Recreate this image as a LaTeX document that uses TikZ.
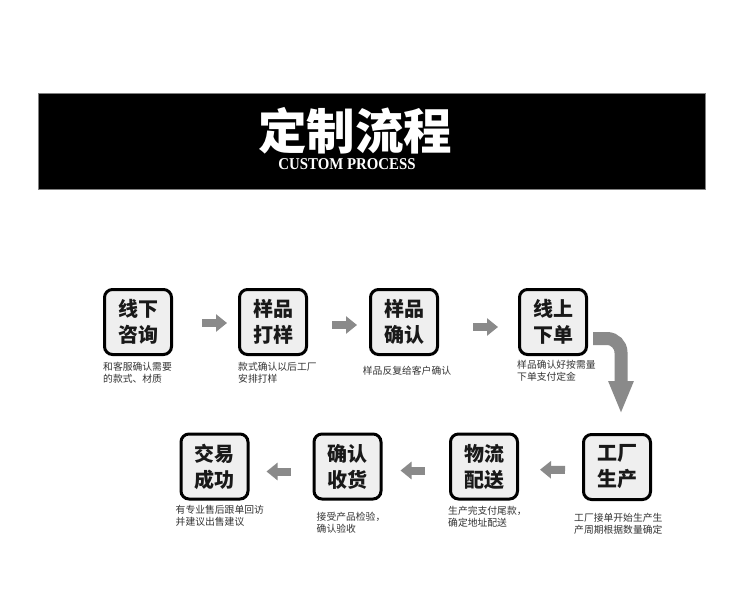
\documentclass[tikz,border=0pt]{standalone}
\usepackage{fontspec}
\newfontfamily\cjk{Noto Sans CJK SC}
\setmainfont{Liberation Serif}
\usetikzlibrary{arrows.meta,positioning,calc}
\definecolor{boxfill}{HTML}{EFEFEF}
\definecolor{arrowgray}{HTML}{8A8A8A}
\definecolor{captext}{HTML}{333333}
\definecolor{bannerline}{HTML}{808080}
\tikzset{
  stepbox/.style={draw=black, line width=3pt, rounded corners=8pt, fill=boxfill,
    minimum width=67pt, minimum height=65pt, inner sep=0pt, align=center,
    font=\cjk\bfseries\fontsize{20}{26}\selectfont, text=black!90},
  captxt/.style={inner sep=0pt, align=left, text=captext,
    font=\cjk\fontsize{9.8}{12}\selectfont},
  garrow/.style={draw=arrowgray, line width=8pt, -{Triangle[length=11pt,width=17pt]}},
  bigarrow/.style={draw=arrowgray, line width=13pt, rounded corners=14pt,
    -{Triangle[length=33pt,width=23pt]}},
}
\begin{document}
\begin{tikzpicture}[x=1pt,y=-1pt]
\useasboundingbox (0,0) rectangle (750,605);
\fill[white] (0,0) rectangle (750,605);
% banner
\node[draw=bannerline, line width=1.2pt, fill=black, minimum width=667pt, minimum height=96pt, inner sep=0pt] (banner) at (372,141.5) {};
\node[text=white, inner sep=0pt, font=\cjk\bfseries\fontsize{48.5}{48.5}\selectfont] (title) at (355,130.5) {定制流程};
\node[text=white, inner sep=0pt, font=\bfseries\fontsize{16.5}{16.5}\selectfont] (sub) at (347,164.5) {\scalebox{0.9}[1]{CUSTOM PROCESS}};
% top row
\node[stepbox] (b1) at (138,322) {线下\\咨询};
\node[stepbox] (b2) at (273,322) {样品\\打样};
\node[stepbox] (b3) at (404,322) {样品\\确认};
\node[stepbox] (b4) at (553,322) {线上\\下单};
% bottom row
\node[stepbox] (b7) at (214.5,466.5) {交易\\成功};
\node[stepbox] (b8) at (347.5,466.5) {确认\\收货};
\node[stepbox] (b9) at (484,466.5) {物流\\配送};
\node[stepbox] (b10) at (617,467) {工厂\\生产};
% captions
\node[captxt, anchor=north west] (c1) at ([xshift=0pt,yshift=-6pt]b1.south west) {和客服确认需要\\的款式、材质};
\node[captxt, anchor=north west] (c2) at ([xshift=0pt,yshift=-6pt]b2.south west) {款式确认以后工厂\\安排打样};
\node[captxt, anchor=north] (c3) at ([xshift=3pt,yshift=-10pt]b3.south) {样品反复给客户确认};
\node[captxt, anchor=north west] (c4) at ([xshift=-1pt,yshift=-4pt]b4.south west) {样品确认好按需量\\下单支付定金};
\node[captxt, anchor=north west] (c7) at ([xshift=-4pt,yshift=-5pt]b7.south west) {有专业售后跟单回访\\并建议出售建议};
\node[captxt, anchor=north west] (c8) at ([xshift=4pt,yshift=-11pt]b8.south west) {接受产品检验，\\确认验收};
\node[captxt, anchor=north west] (c9) at ([xshift=-1pt,yshift=-5pt]b9.south west) {生产完支付尾款，\\确定地址配送};
\node[captxt, anchor=north west] (c10) at ([xshift=-8pt,yshift=-12pt]b10.south west) {工厂接单开始生产生\\产周期根据数量确定};
% arrows top row
\draw[garrow, shorten <=29pt, shorten >=11pt] ([yshift=-1pt]b1.east) -- ([yshift=-1pt]b2.west);
\draw[garrow, shorten <=24pt, shorten >=12pt] ([yshift=-3pt]b2.east) -- ([yshift=-3pt]b3.west);
\draw[garrow, shorten <=34pt, shorten >=20pt] ([yshift=-5pt]b3.east) -- ([yshift=-5pt]b4.west);
% turning arrow
\draw[bigarrow, shorten >=19pt] ([xshift=5pt,yshift=-16.5pt]b4.east) -| ([xshift=4pt]b10.north);
% arrows bottom row
\draw[garrow, shorten <=17pt, shorten >=21pt] ([yshift=-3pt]b10.west) -- ([yshift=-3pt]b9.east);
\draw[garrow, shorten <=24pt, shorten >=18pt] ([yshift=-4pt]b9.west) -- ([yshift=-4pt]b8.east);
\draw[garrow, shorten <=22pt, shorten >=17pt] ([yshift=-5pt]b8.west) -- ([yshift=-5pt]b7.east);
\end{tikzpicture}
\end{document}
